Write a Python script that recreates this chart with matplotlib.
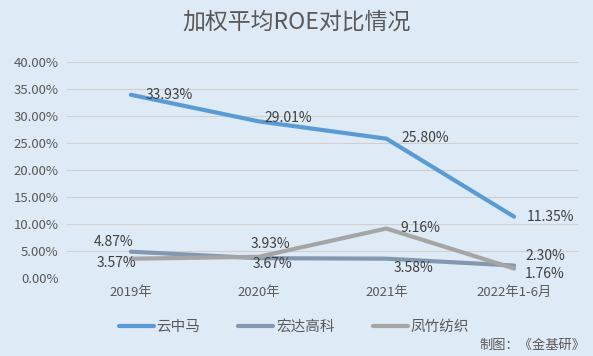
import matplotlib.pyplot as plt
from matplotlib.ticker import FuncFormatter

plt.rcParams['font.family'] = ['Noto Sans CJK SC', 'DejaVu Sans']

years = ['2019年', '2020年', '2021年', '2022年1-6月']
yunzhongma = [33.93, 29.01, 25.80, 11.35]
hongda = [4.87, 3.67, 3.58, 2.30]
fengzhu = [3.57, 3.93, 9.16, 1.76]

bg = '#DEEAF6'
fig = plt.figure(figsize=(5.93, 3.56), dpi=100, facecolor=bg)
ax = fig.add_axes([67/593, 1 - 278/356, 511/593, 216/356], facecolor=bg)

x = range(len(years))
ax.plot(x, yunzhongma, color='#5B9BD5', lw=3, label='云中马', solid_capstyle='round')
ax.plot(x, hongda, color='#8497B0', lw=3, label='宏达高科', solid_capstyle='round')
ax.plot(x, fengzhu, color='#A5A5A5', lw=3, label='凤竹纺织', solid_capstyle='round')

# 数据标签位置 (像素偏移, 对齐方式), 按原图手动摆放
lab = dict(fontsize=10, color='#404040', textcoords='offset points', va='center')
pos_y = [(15, 0, 'left'), (6, 3, 'left'), (15, 1, 'left'), (13, 0, 'left')]
pos_h = [(3, 10, 'right'), (-6, -6, 'left'), (7, -9, 'left'), (11, 10, 'left')]
pos_f = [(5, -4, 'right'), (-8, 13, 'left'), (14, 1, 'left'), (11, -6, 'left')]
for vals, pos in [(yunzhongma, pos_y), (hongda, pos_h), (fengzhu, pos_f)]:
    for i in x:
        dx, dy, ha = pos[i]
        ax.annotate('%.2f%%' % vals[i], (i, vals[i]), xytext=(dx * 0.72, dy * 0.72), ha=ha, **lab)

ax.set_xlim(-0.5, 3.5)
ax.set_ylim(0, 40)
ax.set_yticks(range(0, 41, 5))
ax.yaxis.set_major_formatter(FuncFormatter(lambda v, p: '%.2f%%' % v))
ax.set_xticks(list(x))
ax.set_xticklabels(years)
ax.grid(axis='y', color='#D0D0D0', lw=0.8)
ax.set_axisbelow(True)
for s in ax.spines.values():
    s.set_visible(False)
ax.tick_params(length=0, labelsize=9.5, colors='#595959', pad=6)

fig.text(0.5, 1 - 22/356, '加权平均ROE对比情况', ha='center', va='center', fontsize=16.5, color='#595959')
ax.legend(loc='center', bbox_to_anchor=(294/593, 1 - 327/356), bbox_transform=fig.transFigure, ncol=3, frameon=False,
          fontsize=10.5, labelcolor='#595959', handlelength=2.4, columnspacing=2.6, handletextpad=0.2)
fig.text(585/593, 1 - 345/356, '制图：《金基研》', ha='right', va='center', fontsize=9.5, color='#595959')

fig.savefig('out.png', dpi=100, facecolor=bg)
